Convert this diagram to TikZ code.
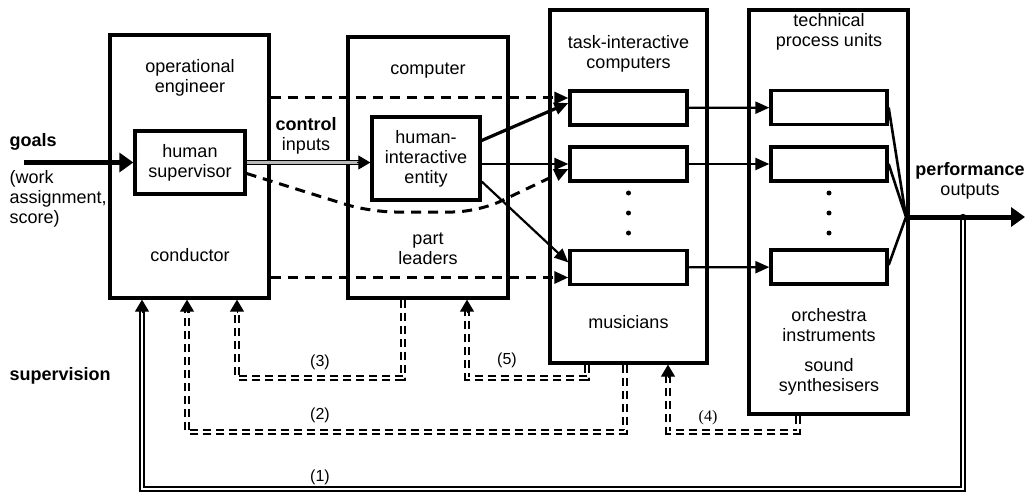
\documentclass[tikz,border=0pt]{standalone}
\usepackage{fontspec}
\setmainfont{Liberation Sans}
\newfontfamily\numserif{Liberation Serif}
\usetikzlibrary{arrows.meta}

\begin{document}
\begin{tikzpicture}[x=1pt,y=-1pt,font=\fontsize{18}{20}\selectfont,
big/.style={draw,line width=3.3pt,minimum width=159pt,inner sep=0pt},
unit/.style={draw,line width=3.3pt,minimum width=117pt,minimum height=34pt,inner sep=0pt},
inbox/.style={draw,line width=3.3pt,inner sep=0pt,align=center},
txt/.style={align=center},
lbl/.style={font=\fontsize{16}{18}\selectfont},
a/.style={-{Triangle[length=14pt,width=12pt]},line width=2.2pt},
d/.style={-{Triangle[length=14pt,width=12pt]},line width=3pt,dash pattern=on 10pt off 7pt},
ctl/.style={draw,double=gray!55,line width=1.5pt,double distance=2.2pt},
fbk/.style={draw,double,line width=1.9pt,double distance=2.2pt},
fbd/.style={fbk,dash pattern=on 8pt off 5pt},
tip/.style={-{Triangle[length=12pt,width=14pt]},line width=1pt},
fat/.style={-{Triangle[length=14pt,width=19pt]},line width=5pt}]
\useasboundingbox (0,0) rectangle (1027,492);
\node[big,minimum height=263pt] (cond) at (189.5,166.5) {};
\node[big,minimum width=160pt,minimum height=261pt] (comp) at (428,167.5) {};
\node[big,minimum width=157pt,minimum height=353pt] (mus) at (628.5,186.5) {};
\node[big,minimum height=404pt] (inst) at (828.5,212) {};
\node[inbox,minimum width=110pt,minimum height=63pt] (hs) at (190,162.5) {human\\supervisor};
\node[inbox,minimum width=108pt,minimum height=83pt] (hie) at (426,158.5) {human-\\interactive\\entity};
\node[unit] (ta) at (628.5,108) {};
\node[unit] (tb) at (628.5,164) {};
\node[unit] (tc) at (628.5,267.5) {};
\node[unit,minimum width=116pt] (pa) at (829,107.5) {};
\node[unit,minimum width=116pt] (pb) at (829,164) {};
\node[unit,minimum width=116pt] (pc) at (829,267) {};
\node[txt] (oe) at (190,78) {operational\\engineer};
\node (cd) at (190,255) {conductor};
\node (cp) at (428,71) {computer};
\node[txt] (pl) at (428,249) {part\\leaders};
\node[txt] (tic) at (628.5,54) {task-interactive\\computers};
\node (mu) at (628.5,322) {musicians};
\node[txt] (tpu) at (829,32) {technical\\process units};
\node[txt] (oi) at (829,325) {orchestra\\instruments};
\node[txt] (ss) at (829,377) {sound\\synthesisers};
\node[anchor=west] (gl) at (6,142) {\textbf{goals}};
\node[anchor=west,align=left] (wa) at (6,199) {(work\\assignment,\\score)};
\node[txt] (ci) at (306,136) {\textbf{control}\\inputs};
\node[txt] (po) at (970,181) {\textbf{performance}\\outputs};
\node[anchor=west] (sv) at (6,376) {\textbf{supervision}};
\foreach \x in {628.5,829} \foreach \y in {193,213,233} \fill (\x,\y) circle (2.5pt);
\coordinate (g) at (24,162.5);
\draw[fat] (g) -- (hs);
\coordinate (c0) at (hs.east -| hie.west);
\draw[ctl,shorten >=11pt] (hs.east) -- (c0);
\draw[tip] ([xshift=-13pt]c0) -- (c0);
\draw[a,line width=3.2pt] ([yshift=18pt]hie.east) -- ([yshift=5pt]ta.west);
\draw[a] (hie.east |- tb.west) -- (tb.west);
\draw[a] ([yshift=-23pt]hie.east) -- ([yshift=5pt]tc.west);
\coordinate (d1) at ([yshift=10pt]ta.west);
\coordinate (d2) at ([yshift=-10pt]tc.west);
\draw[d] (d1 -| cond.east) -- (d1);
\draw[d] (d2 -| cond.east) -- (d2);
\draw[d,rounded corners=25pt] ([yshift=-11pt]hs.east) -- (370,212) -- (478,212) -- ([yshift=-5pt]tb.west);
\draw[a] (ta) -- (pa);
\draw[a] (tb) -- (pb);
\draw[a] (tc) -- (pc);
\coordinate (m) at (906,217);
\coordinate (o) at (1025,217);
\draw[line width=2.6pt] (pa.east) -- (m) (pb.east) -- (m) ([yshift=2pt]pc.east) -- (m);
\draw[fat] (m) -- (o);
\coordinate (j) at (963,217);
\coordinate (f1) at (142,489);
\draw[fbk,shorten >=11pt] (j) |- (f1) -- (f1 |- cond.south);
\draw[tip] ([yshift=-13pt]f1 |- cond.south) -- (f1 |- cond.south);
\fill (j) circle (3.2pt);
\coordinate (r2) at (625,432); \coordinate (l2) at (187,432);
\draw[fbd,shorten >=11pt] (r2 |- mus.south) -- (r2) -- (l2) -- (l2 |- cond.south);
\draw[tip] ([yshift=-13pt]l2 |- cond.south) -- (l2 |- cond.south);
\coordinate (r3) at (403,378); \coordinate (l3) at (237,378);
\draw[fbd,shorten >=11pt] (r3 |- comp.south) -- (r3) -- (l3) -- (l3 |- cond.south);
\draw[tip] ([yshift=-13pt]l3 |- cond.south) -- (l3 |- cond.south);
\coordinate (r5) at (587,378); \coordinate (l5) at (467,378);
\draw[fbd,shorten >=11pt] (r5 |- mus.south) -- (r5) -- (l5) -- (l5 |- comp.south);
\draw[tip] ([yshift=-13pt]l5 |- comp.south) -- (l5 |- comp.south);
\coordinate (r4) at (798,432); \coordinate (l4) at (668,432);
\draw[fbd,shorten >=11pt] (r4 |- inst.south) -- (r4) -- (l4) -- (l4 |- mus.south);
\draw[tip] ([yshift=-13pt]l4 |- mus.south) -- (l4 |- mus.south);
\node[lbl] (n1) at (320,477) {(1)};
\node[lbl] (n2) at (320,415) {(2)};
\node[lbl] (n3) at (320,362) {(3)};
\node[lbl] (n5) at (507,360) {(5)};
\node[lbl,font=\fontsize{16}{18}\numserif] (n4) at (708,418) {(4)};
\end{tikzpicture}
\end{document}
